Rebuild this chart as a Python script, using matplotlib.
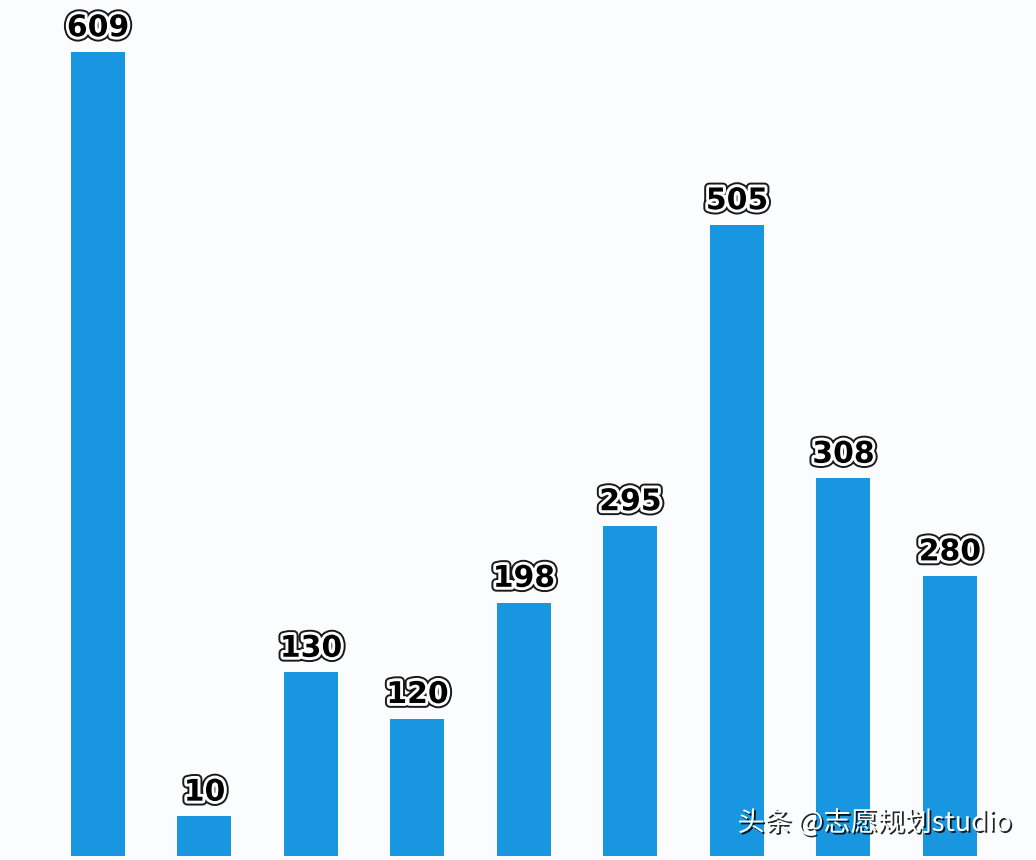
import matplotlib
matplotlib.use("Agg")
import matplotlib.pyplot as plt
import matplotlib.patheffects as pe
import numpy as np

# Labelled values as printed above each bar
labels = ["609", "10", "130", "120", "198", "295", "505", "308", "280"]
# Bar heights as drawn in the picture (same units as the labels)
bar_heights = [609, 30, 139, 104, 192, 250, 478, 286, 212]

bar_color = "#1896e0"
bg = "#fbfcfe"

fig = plt.figure(figsize=(10.36, 8.6), dpi=100, facecolor=bg)
ax = fig.add_axes([0, 4 / 860, 1, 856 / 860])
ax.set_facecolor(bg)

x = np.arange(len(bar_heights))
ax.bar(x, bar_heights, width=0.507, color=bar_color, zorder=2)

ax.set_xlim(-0.92, 8.808)
ax.set_ylim(0, 648.4)
ax.axis("off")

effects = [
    pe.Stroke(linewidth=7.0, foreground="#1a1a1a"),
    pe.Stroke(linewidth=4.2, foreground="white"),
    pe.Normal(),
]
for xi, h, lab in zip(x, bar_heights, labels):
    ax.annotate(lab, (xi, h), xytext=(0, 7), textcoords="offset points",
                ha="center", va="bottom", fontsize=21.5, fontweight="bold",
                family="DejaVu Sans", color="black", path_effects=effects,
                zorder=3)

fig.text(1012 / 1036, 1 - 823 / 860, "头条 @志愿规划studio", ha="right", va="center",
         fontsize=19.5, color="white",
         family=["Noto Sans CJK SC", "DejaVu Sans"],
         path_effects=[pe.SimplePatchShadow(offset=(1.3, -1.3), shadow_rgbFace="black", alpha=0.85),
                       pe.Normal()])

fig.savefig("out.png", dpi=100, facecolor=bg)
